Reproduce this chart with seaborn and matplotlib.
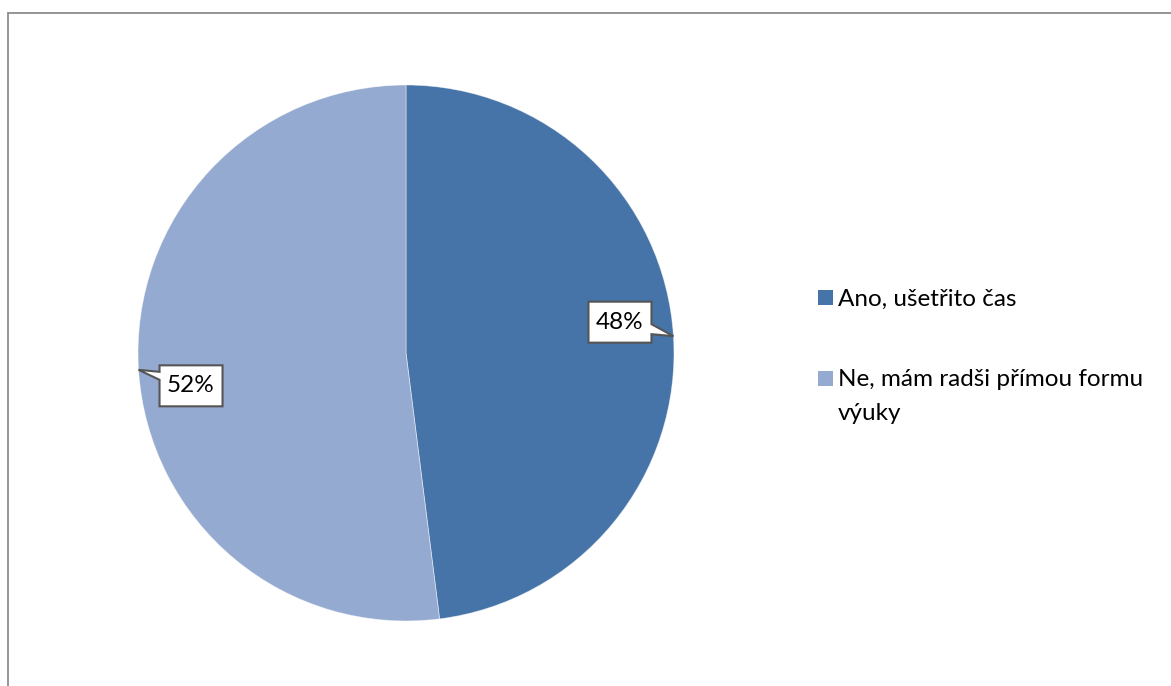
import numpy as np
import matplotlib
matplotlib.use("Agg")
import matplotlib.pyplot as plt
from matplotlib.patches import Polygon, Rectangle
import seaborn as sns

categories = ["Ano, ušetřito čas", "Ne, mám radši přímou formu\nvýuky"]
values = [48, 52]
value_labels = ["48%", "52%"]
colors = ["#4674A8", "#95AAD0"]

sns.set_theme(style="white")
plt.rcParams["font.family"] = ["Lato", "DejaVu Sans"]

W, H = 1171, 686
fig = plt.figure(figsize=(W / 100, H / 100), dpi=100)
fig.patch.set_facecolor("white")

# outer chart frame (runs past the right and bottom edges)
fig.add_artist(Rectangle((8 / W, -0.05), 1.2, (H - 13) / H + 0.05,
                         transform=fig.transFigure, fill=False,
                         edgecolor="#8C8C8C", linewidth=1.3))

# pie area: centre at (406, 353) px, radius 268 px
R = 268
cx, cy = 406, H - 353
ax = fig.add_axes([(cx - R) / W, (cy - R) / H, 2 * R / W, 2 * R / H])
wedges, _ = ax.pie(values, colors=colors, startangle=90, counterclock=False,
                   radius=1, wedgeprops=dict(edgecolor=(1, 1, 1, 0.5), linewidth=0.6))
ax.set_xlim(-1, 1)
ax.set_ylim(-1, 1)
ax.set_aspect("equal")
ax.axis("off")

px = 1 / R  # one pixel in data units
box_w, box_h = 63 * px, 41 * px
for wdg, lab in zip(wedges, value_labels):
    mid = np.deg2rad((wdg.theta1 + wdg.theta2) / 2)
    tx, ty = np.cos(mid), np.sin(mid)
    if tx >= 0:
        # box sits to the left of the anchor, a bit above it
        x1 = tx - 22 * px
        x0 = x1 - box_w
        yc = ty + 14 * px
        y0, y1 = yc - box_h / 2, yc + box_h / 2
        pts = [(x0, y0), (x0, y1), (x1, y1), (x1, ty + 12 * px),
               (tx, ty), (x1, ty + 2 * px), (x1, y0)]
    else:
        # box sits to the right of the anchor, a bit below it
        x0 = tx + 21 * px
        x1 = x0 + box_w
        yc = ty - 16 * px
        y0, y1 = yc - box_h / 2, yc + box_h / 2
        pts = [(x0, y0), (x0, ty - 10 * px), (tx, ty), (x0, ty - 2 * px),
               (x0, y1), (x1, y1), (x1, y0)]
    ax.add_patch(Polygon(pts, closed=True, facecolor="white",
                         edgecolor="#555555", linewidth=1.5, clip_on=False, zorder=5))
    ax.text((x0 + x1) / 2, yc, lab, ha="center", va="center",
            fontsize=17.5, color="black", zorder=6)

# legend
leg_x = 818
rows = [297, 378]
line_step = 33
for cat, col, yrow in zip(categories, colors, rows):
    fig.add_artist(Rectangle((leg_x / W, (H - yrow - 7.5) / H), 15 / W, 15 / H,
                             transform=fig.transFigure, facecolor=col, edgecolor="none"))
    for i, line in enumerate(cat.split("\n")):
        fig.text(838 / W, (H - yrow - i * line_step) / H, line, ha="left",
                 va="center_baseline", fontsize=17.5, color="black",
                 transform=fig.transFigure)

fig.savefig("out.png", dpi=100, facecolor="white")
